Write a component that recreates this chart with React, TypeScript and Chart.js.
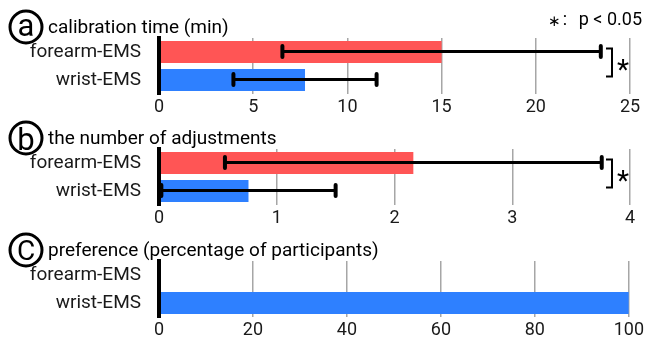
import React, { useEffect, useRef } from 'react';
import { Chart, registerables } from 'chart.js';

Chart.register(...registerables);

// ---------- data ----------
const categories = ['forearm-EMS', 'wrist-EMS'];

const calibrationMean = [15.0, 7.75];
const calibrationSD = [8.45, 3.8];
const calibrationTicks = [0, 5, 10, 15, 20, 25];

const adjustmentMean = [2.16, 0.76];
const adjustmentSD = [1.6, 0.74];
const adjustmentTicks = [0, 1, 2, 3, 4];

const preferencePct = [0, 100];
const preferenceTicks = [0, 20, 40, 60, 80, 100];

const panelLetters = ['a', 'b', 'C'];
const panelTitles = [
  'calibration time (min)',
  'the number of adjustments',
  'preference (percentage of participants)',
];
const significanceLegend = ['∗', ':', 'p < 0.05'];

const barColors = ['#FF5555', '#2E80FF'];
const FONT = 'Roboto, "Noto Sans", sans-serif';

type PanelProps = {
  top: number;
  height: number;
  xAxisHeight: number;
  letter: string;
  title: string;
  values: number[];
  sd?: number[];
  ticks: number[];
  significant: boolean;
  legend: boolean;
};

function Panel(p: PanelProps) {
  const ref = useRef<HTMLCanvasElement>(null);

  useEffect(() => {
    const canvas = ref.current;
    if (!canvas) return;

    const errorBars = {
      id: 'errorBars',
      afterDatasetsDraw(chart: any) {
        if (!p.sd) return;
        const meta = chart.getDatasetMeta(0);
        const xs = chart.scales.x;
        const ctx = chart.ctx;
        ctx.save();
        ctx.strokeStyle = '#000';
        meta.data.forEach((bar: any, i: number) => {
          const lo = xs.getPixelForValue(p.values[i] - p.sd![i]);
          const hi = xs.getPixelForValue(p.values[i] + p.sd![i]);
          const y = bar.y - 0.5;
          ctx.lineWidth = 3;
          ctx.lineCap = 'butt';
          ctx.beginPath();
          ctx.moveTo(lo, y);
          ctx.lineTo(hi, y);
          ctx.stroke();
          ctx.lineWidth = 4;
          ctx.lineCap = 'round';
          for (const x of [lo, hi]) {
            ctx.beginPath();
            ctx.moveTo(x, y - 5.5);
            ctx.lineTo(x, y + 5.5);
            ctx.stroke();
          }
        });
        ctx.restore();
      },
    };

    const decor = {
      id: 'panelDecor',
      afterDraw(chart: any) {
        const { ctx, chartArea } = chart;
        const base = chartArea.top - 5.5;
        ctx.save();
        ctx.fillStyle = '#000';
        ctx.strokeStyle = '#000';
        // circled letter
        const cx = 26;
        const cy = base - 5.5;
        ctx.lineWidth = 3;
        ctx.beginPath();
        ctx.arc(cx, cy, 16, 0, Math.PI * 2);
        ctx.stroke();
        ctx.font = `${p.letter === 'C' ? 28 : 31}px ${FONT}`;
        ctx.textAlign = 'center';
        ctx.textBaseline = 'alphabetic';
        const m = ctx.measureText(p.letter);
        const asc = m.actualBoundingBoxAscent;
        const desc = m.actualBoundingBoxDescent;
        ctx.fillText(p.letter, cx, cy + (asc - desc) / 2);
        // title
        ctx.font = `19px ${FONT}`;
        ctx.textAlign = 'left';
        ctx.fillText(p.title, 48, base);

        if (p.significant) {
          const meta = chart.getDatasetMeta(0);
          const y1 = meta.data[0].y - 3.5;
          const y2 = meta.data[1].y - 3.5;
          const xr = chartArea.right - 18;
          ctx.lineWidth = 2;
          ctx.lineCap = 'butt';
          ctx.beginPath();
          ctx.moveTo(xr - 6, y1);
          ctx.lineTo(xr, y1);
          ctx.lineTo(xr, y2);
          ctx.lineTo(xr - 6, y2);
          ctx.stroke();
          ctx.font = `28px ${FONT}`;
          ctx.textAlign = 'center';
          ctx.fillText('*', xr + 11, (y1 + y2) / 2 + 16);
        }

        if (p.legend) {
          ctx.font = `18px ${FONT}`;
          ctx.textAlign = 'right';
          ctx.fillText(significanceLegend[2], 642, 25);
          ctx.textAlign = 'center';
          ctx.fillText(significanceLegend[1], 565, 25);
          ctx.font = `15px ${FONT}`;
          ctx.fillText(significanceLegend[0], 554, 26);
        }
        ctx.restore();
      },
    };

    const chart = new Chart(canvas, {
      type: 'bar',
      data: {
        labels: categories,
        datasets: [
          {
            data: p.values,
            backgroundColor: barColors,
            borderWidth: 0,
            barPercentage: 0.79,
            categoryPercentage: 1,
          },
        ],
      },
      options: {
        indexAxis: 'y',
        animation: false,
        responsive: false,
        devicePixelRatio: 1,
        events: [],
        layout: { padding: { top: 38, left: 0, right: 17, bottom: 0 } },
        plugins: {
          legend: { display: false },
          tooltip: { enabled: false },
          title: { display: false },
        },
        scales: {
          x: {
            type: 'linear',
            min: p.ticks[0],
            max: p.ticks[p.ticks.length - 1],
            afterBuildTicks: (scale: any) => {
              scale.ticks = p.ticks.map((v) => ({ value: v }));
            },
            ticks: {
              font: { family: FONT, size: 18 },
              color: '#1a1a1a',
              padding: 3,
            },
            grid: { color: '#a6a6a6', lineWidth: 1.5, drawTicks: false },
            border: { display: false },
            afterFit: (scale: any) => {
              scale.height = p.xAxisHeight;
            },
          },
          y: {
            ticks: {
              font: { family: FONT, size: 19 },
              color: '#1a1a1a',
              padding: 0,
            },
            grid: { display: false, drawTicks: true, tickLength: 18 },
            border: { display: true, color: '#000', width: 4, z: 1 },
            afterFit: (scale: any) => {
              scale.width = 159;
              scale.paddingTop = 0;
              scale.paddingBottom = 0;
            },
          },
        },
      } as any,
      plugins: [errorBars, decor],
    });

    return () => chart.destroy();
  }, []);

  return (
    <canvas
      ref={ref}
      width={647}
      height={p.height}
      style={{ position: 'absolute', left: 0, top: p.top, width: 647, height: p.height }}
    />
  );
}

export default function App() {
  return (
    <div
      style={{
        position: 'absolute',
        left: 0,
        top: 0,
        width: 647,
        height: 341,
        background: '#fff',
        overflow: 'hidden',
      }}
    >
      <Panel
        top={0}
        height={112}
        xAxisHeight={18}
        letter={panelLetters[0]}
        title={panelTitles[0]}
        values={calibrationMean}
        sd={calibrationSD}
        ticks={calibrationTicks}
        significant={true}
        legend={true}
      />
      <Panel
        top={111}
        height={112}
        xAxisHeight={18}
        letter={panelLetters[1]}
        title={panelTitles[1]}
        values={adjustmentMean}
        sd={adjustmentSD}
        ticks={adjustmentTicks}
        significant={true}
        legend={false}
      />
      <Panel
        top={223}
        height={118}
        xAxisHeight={24}
        letter={panelLetters[2]}
        title={panelTitles[2]}
        values={preferencePct}
        ticks={preferenceTicks}
        significant={false}
        legend={false}
      />
    </div>
  );
}
